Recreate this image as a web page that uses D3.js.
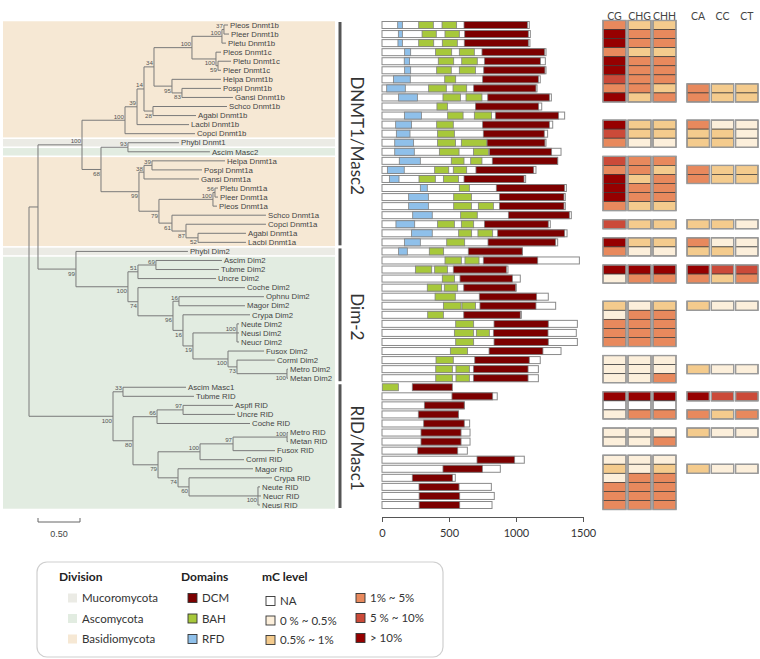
<!DOCTYPE html>
<html>
<head>
<meta charset="utf-8">
<script src="https://cdnjs.cloudflare.com/ajax/libs/d3/7.8.5/d3.min.js"></script>
<style>
  body { margin: 0; background: #fff; }
  svg { font-family: "Liberation Sans", Arial, sans-serif; }
</style>
</head>
<body>
<div id="chart"></div>
<script>
// Data =========================

// tree (newick, branch lengths in substitutions/site, support values as node names)
let dnmt1bClade = "(((((((Pleos_Dnmt1b:0.048,Pleer_Dnmt1b:0.060)37:0.024,Pletu_Dnmt1b:0.048)100:0.357,(Pleos_Dnmt1c:0.060,(Pletu_Dnmt1c:0.155,Pleer_Dnmt1c:0.036)59:0.024)100:0.286)100:0.452,(Helpa_Dnmt1b:0.583,(Pospl_Dnmt1b:0.464,Gansi_Dnmt1b:0.607)83:0.119)95:0.214)34:0.119,(Schco_Dnmt1b:0.881,Agabi_Dnmt1b:0.512)28:0.107)14:0.083,Lacbi_Dnmt1b:0.619)39:0.143,Copci_Dnmt1b:0.833)100:0.512";
let dnmt1aClade = "((Phybl_Dnmt1:0.607,Ascim_Masc2:0.976)93:0.321,(((Helpa_Dnmt1a:0.869,Pospl_Dnmt1a:0.595)39:0.095,Gansi_Dnmt1a:0.655)38:0.060,(((Pletu_Dnmt1a:0.036,Pleer_Dnmt1a:0.036)56:0.024,Pleos_Dnmt1a:0.048)100:0.643,(Schco_Dnmt1a:1.119,(Copci_Dnmt1a:0.952,(Agabi_Dnmt1a:0.571,Lacbi_Dnmt1a:0.571)52:0.143)87:0.167)61:0.155)79:0.238)99:0.452)68:0.226";
let dim2Clade = "(Phybl_Dim2:1.333,(((Ascim_Dim2:0.786,Tubme_Dim2:0.750)69:0.214,Uncre_Dim2:0.929)51:0.119,(Coche_Dim2:1.274,((Ophnu_Dim2:1.012,Magor_Dim2:0.786)16:0.071,(Crypa_Dim2:0.798,((Neute_Dim2:0.024,Neusi_Dim2:0.024,Neucr_Dim2:0.024)100:0.524,(Fusox_Dim2:0.429,(Cormi_Dim2:0.452,(Metro_Dim2:0.012,Metan_Dim2:0.012)100:0.595)73:0.107)100:0.417)19:0.119)16:0.119)96:0.417)74:0.119)100:0.619)99:0.452";
let ridClade = "((Ascim_Masc1:0.750,Tubme_RID:0.845)33:0.119,(((Aspfl_RID:0.595,Uncre_RID:0.619)97:0.310,Coche_RID:1.107)66:0.286,((((Metro_RID:0.012,Metan_RID:0.012)100:0.643,Fusox_RID:0.500)97:0.393,Cormi_RID:0.524)100:0.500,(Magor_RID:0.893,(Crypa_RID:0.988,(Neute_RID:0.024,Neucr_RID:0.036,Neusi_RID:0.024)100:0.821)60:0.131)74:0.238)79:0.298)80:0.238)100:1.000";
let treeNewick = "(((" + dnmt1bClade + "," + dnmt1aClade + ")100:0.524," + dim2Clade + "):0.107," + ridClade + ");";

let basidioSpecies = ["Pleos", "Pleer", "Pletu", "Helpa", "Pospl", "Gansi", "Schco", "Agabi", "Lacbi", "Copci"];
let mucoroSpecies = ["Phybl"];

let cladeNames = ["DNMT1/Masc2", "Dim-2", "RID/Masc1"];
let cladeFirstLeaf = [0, 25, 40];
let cladeLastLeaf = [24, 39, 53];

// protein length and domains (aa), in leaf order top to bottom
let proteinLength = [1099, 1107, 1104, 1224, 1219, 1224, 1181, 1157, 1264, 1192, 1363, 1274, 1236, 1224, 1336, 1311, 1149,
  1072, 1376, 1368, 1368, 1413, 1256, 1381, 1311, 1047, 1473, 940, 1032, 1002, 1241, 1296, 1040, 1458, 1450, 1458, 1336,
  1181, 1167, 1167, null, 860, 614, 570, 654, 657, 657, 637, 1062, 883, 547, 816, 838, 821];
let rfdDomain = [[117, 152], [122, 152], [119, 152], [169, 214], [166, 206], [169, 214], [85, 211], [35, 174], [124, 264], null,
  [167, 294], [102, 221], [107, 209], [95, 236], [95, 241], [129, 286], [40, 166], [55, 127], [286, 338], [199, 346], [199, 346],
  [229, 375], [104, 244], [221, 375], [167, 286], [124, 189],
  null, null, null, null, null, null, null, null, null, null, null, null, null, null,
  null, null, null, null, null, null, null, null, null, null, null, null, null, null];
let bahDomains = [[[274, 383], [448, 557]], [[299, 405], [470, 577]], [[274, 386], [450, 562]], [[400, 520], [577, 689]],
  [[420, 535], [595, 711]], [[408, 517], [577, 697]], [[468, 550]], [[348, 480], [530, 632]], [[455, 585], [627, 746]],
  [[410, 488]], [[490, 605], [689, 818]], [[408, 532]], [[415, 540]], [[415, 549], [592, 784]], [[428, 575], [682, 794]],
  [[517, 612], [662, 746]], [[393, 498], [532, 632]], [[276, 398], [458, 570]], [[577, 652]], [[535, 667]],
  [[535, 667], [719, 831]], [[587, 711]], [[415, 540], [592, 684]], [[572, 669], [716, 826]], [[483, 617]], [[353, 460]],
  [[470, 592], [619, 724]], [[249, 371], [393, 488]], [[450, 542]], [[338, 445], [465, 565]], [[396, 547]],
  [[458, 590], [597, 697]], [[341, 458]], [[550, 684]], [[540, 684], [704, 801]], [[550, 684]], [[510, 639]], [[403, 532]],
  [[401, 525], [552, 652]], [[401, 525], [552, 652]], [[2, 122]],
  [], [], [], [], [], [], [], [], [], [], [], [], []];
let dcmDomain = [[612, 1085], [617, 1092], [614, 1092], [746, 1214], [764, 1182], [759, 1216], [751, 1167], [684, 1149],
  [789, 1249], [697, 1169], [846, 1318], [751, 1249], [756, 1211], [784, 1216], [801, 1266], [823, 1311], [701, 1132],
  [612, 1060], [853, 1363], [876, 1358], [876, 1358], [943, 1398], [764, 1241], [863, 1363], [791, 1296], [644, 1047],
  [756, 1162], [532, 928], [582, 973], [610, 998], [726, 1154], [731, 1149], [610, 1032], [836, 1241], [831, 1239],
  [836, 1241], [799, 1201], [692, 1099], [682, 1090], [682, 1090], [226, 525], [522, 826], [316, 614], [271, 570],
  [311, 614], [291, 590], [291, 590], [266, 565], [709, 990], [455, 749], [226, 527], [276, 575], [277, 580], [277, 580]];
let lengthTicks = [0, 500, 1000, 1500];

// methylation level classes: 0 NA, 1 0-0.5%, 2 0.5-1%, 3 1-5%, 4 5-10%, 5 >10%
let contextCols = ["CG", "CHG", "CHH"];
let contextLeaves = ["Pleos Dnmt1b", "Pleer Dnmt1b", "Pletu Dnmt1b", "Pleos Dnmt1c", "Pletu Dnmt1c", "Pleer Dnmt1c",
  "Helpa Dnmt1b", "Pospl Dnmt1b", "Gansi Dnmt1b", "Lacbi Dnmt1b", "Copci Dnmt1b", "Phybl Dnmt1", "Helpa Dnmt1a",
  "Pospl Dnmt1a", "Gansi Dnmt1a", "Pletu Dnmt1a", "Pleer Dnmt1a", "Pleos Dnmt1a", "Copci Dnmt1a", "Lacbi Dnmt1a",
  "Phybl Dim2", "Tubme Dim2", "Uncre Dim2", "Magor Dim2", "Crypa Dim2", "Neute Dim2", "Neusi Dim2", "Neucr Dim2",
  "Cormi Dim2", "Metro Dim2", "Metan Dim2", "Tubme RID", "Aspfl RID", "Uncre RID", "Metro RID", "Metan RID",
  "Cormi RID", "Magor RID", "Crypa RID", "Neute RID", "Neucr RID", "Neusi RID"];
let mCG  = [3, 5, 5, 3, 5, 5, 4, 3, 5, 5, 4, 3, 4, 3, 5, 5, 5, 3, 4, 5, 3, 5, 1, 2, 1, 3, 3, 3, 1, 1, 1, 5, 0, 1, 1, 1, 1, 2, 1, 3, 3, 3];
let mCHG = [2, 3, 3, 2, 3, 3, 3, 3, 2, 2, 2, 1, 3, 3, 2, 3, 3, 2, 2, 2, 1, 5, 3, 1, 3, 3, 3, 3, 1, 1, 1, 5, 0, 3, 1, 1, 1, 1, 3, 3, 3, 3];
let mCHH = [2, 3, 3, 2, 3, 3, 3, 2, 3, 2, 2, 1, 3, 2, 3, 3, 3, 2, 2, 2, 1, 5, 3, 2, 3, 3, 3, 3, 1, 1, 3, 5, 0, 3, 1, 3, 1, 2, 3, 3, 3, 3];

let dinucCols = ["CA", "CC", "CT"];
let dinucLeaves = ["Pospl Dnmt1b", "Gansi Dnmt1b", "Lacbi Dnmt1b", "Copci Dnmt1b", "Phybl Dnmt1", "Pospl Dnmt1a",
  "Gansi Dnmt1a", "Copci Dnmt1a", "Lacbi Dnmt1a", "Phybl Dim2", "Tubme Dim2", "Uncre Dim2", "Magor Dim2", "Metro Dim2",
  "Tubme RID", "Uncre RID", "Metro RID", "Magor RID"];
let mCA = [3, 3, 3, 2, 2, 3, 3, 2, 3, 2, 5, 3, 2, 2, 5, 3, 2, 2];
let mCC = [2, 2, 1, 2, 2, 2, 2, 2, 1, 2, 4, 2, 1, 1, 4, 2, 1, 1];
let mCT = [2, 2, 1, 1, 1, 2, 2, 1, 1, 1, 4, 3, 1, 1, 4, 3, 1, 1];

let mcLevelLabels = ["NA", "0 % ~ 0.5%", "0.5% ~ 1%", "1% ~ 5%", "5 % ~ 10%", "> 10%"];
let mcLevelColors = ["#ffffff", "#fcefdb", "#f4cb8d", "#e8895d", "#cb4a39", "#960000"];

let divisionNames = ["Mucoromycota", "Ascomycota", "Basidiomycota"];
let divisionColors = ["#ebebe5", "#e2ece1", "#f6e8d4"];
let domainNames = ["DCM", "BAH", "RFD"];
let domainColors = ["#7c0000", "#a7c83b", "#8fc0ea"];

// Setup ========================

let svgWidth = 760;
let svgHeight = 659;
let svg = d3.select("#chart").append("svg").attr("width", svgWidth).attr("height", svgHeight);

let parseNewick = s => {
  let ancestors = [];
  let tree = {};
  let tokens = s.split(/\s*(;|\(|\)|,|:)\s*/);
  tokens.forEach((t, i) => {
    if (t === "(") {
      let sub = {};
      tree.children = [sub];
      ancestors.push(tree);
      tree = sub;
    } else if (t === ",") {
      let sib = {};
      ancestors[ancestors.length - 1].children.push(sib);
      tree = sib;
    } else if (t === ")") {
      tree = ancestors.pop();
    } else if (t !== ":" && t !== ";" && t !== "") {
      let prev = tokens[i - 1];
      if (prev === ":") tree.length = parseFloat(t);
      else tree.name = t;
    }
  });
  return tree;
};

let root = d3.hierarchy(parseNewick(treeNewick));
root.eachBefore(d => d.dist = d.parent ? d.parent.dist + (d.data.length || 0) : 0);
let leaves = root.leaves();

let yScale = d3.scaleLinear().domain([0, leaves.length - 1]).range([25, 505]);
let rowH = yScale(1) - yScale(0);
let xTree = d3.scaleLinear().domain([0, 1]).range([29, 113]);
let xBar = d3.scaleLinear().domain([0, 1500]).range([382, 583]);

leaves.forEach((d, i) => {
  d.idx = i;
  d.yPos = yScale(i);
  d.label = d.data.name.replace(/_/g, " ");
});
root.eachAfter(d => {
  if (d.children) d.yPos = (d.children[0].yPos + d.children[d.children.length - 1].yPos) / 2;
});
let leafIndex = {};
leaves.forEach(d => leafIndex[d.label] = d.idx);

// Division bands ===============

let divisionOf = name => {
  let sp = name.slice(0, 5);
  if (basidioSpecies.includes(sp)) return 2;
  if (mucoroSpecies.includes(sp)) return 0;
  return 1;
};
let runs = [];
leaves.forEach((d, i) => {
  let dv = divisionOf(d.label);
  if (runs.length && runs[runs.length - 1].dv === dv) runs[runs.length - 1].end = i;
  else runs.push({ dv: dv, start: i, end: i });
});
svg.append("g").selectAll("rect")
  .data(runs)
  .enter()
  .append("rect")
  .attr("x", 3)
  .attr("width", 332)
  .attr("y", d => yScale(d.start) - rowH / 2 + 0.8)
  .attr("height", d => yScale(d.end) - yScale(d.start) + rowH - 1.6)
  .attr("fill", d => divisionColors[d.dv]);

// Tree =========================

let treeG = svg.append("g").attr("stroke", "#7a7a7a").attr("stroke-width", 1).attr("fill", "none");
root.descendants().filter(d => d.parent).forEach(d => {
  treeG.append("line")
    .attr("x1", xTree(d.parent.dist)).attr("x2", xTree(d.dist))
    .attr("y1", d.yPos).attr("y2", d.yPos);
});
root.descendants().filter(d => d.children).forEach(d => {
  treeG.append("line")
    .attr("x1", xTree(d.dist)).attr("x2", xTree(d.dist))
    .attr("y1", d.children[0].yPos).attr("y2", d.children[d.children.length - 1].yPos);
});

// support values
root.descendants().filter(d => d.children && d.parent && d.data.name).forEach(d => {
  let first = d.parent.children[0] === d;
  svg.append("text")
    .attr("x", xTree(d.dist) - 1)
    .attr("y", d.yPos + (first ? -1.5 : 6.5))
    .attr("text-anchor", "end")
    .attr("font-size", 6.2)
    .attr("fill", "#555")
    .text(d.data.name);
});

// leaf labels
svg.append("g").selectAll("text")
  .data(leaves)
  .enter()
  .append("text")
  .attr("x", d => xTree(d.dist) + 2)
  .attr("y", d => d.yPos)
  .attr("dy", "0.35em")
  .attr("font-size", 7.8)
  .attr("fill", "#444")
  .text(d => d.label);

// scale bar
let sbX = 38;
let sbLen = xTree(0.5) - xTree(0);
svg.append("path")
  .attr("d", `M${sbX},518V522H${sbX + sbLen}V518`)
  .attr("fill", "none")
  .attr("stroke", "#666")
  .attr("stroke-width", 1);
svg.append("text")
  .attr("x", sbX + sbLen / 2)
  .attr("y", 537)
  .attr("text-anchor", "middle")
  .attr("font-size", 9)
  .attr("fill", "#444")
  .text("0.50");

// Clade brackets ===============

cladeNames.forEach((name, i) => {
  let y1 = yScale(cladeFirstLeaf[i]) - 3;
  let y2 = yScale(cladeLastLeaf[i]) + 3;
  svg.append("line")
    .attr("x1", 340).attr("x2", 340)
    .attr("y1", y1).attr("y2", y2)
    .attr("stroke", "#555")
    .attr("stroke-width", 3);
  svg.append("text")
    .attr("transform", `translate(357, ${(y1 + y2) / 2 + 2}) rotate(90)`)
    .attr("text-anchor", "middle")
    .attr("dominant-baseline", "central")
    .attr("font-family", "Lato, 'Open Sans', sans-serif")
    .attr("font-size", 17)
    .attr("fill", "#333")
    .text(name);
});

// Domain bars ==================

let barH = 7;
let barsG = svg.append("g");
leaves.forEach((d, i) => {
  let y = d.yPos - barH / 2;
  if (proteinLength[i] !== null) {
    barsG.append("rect")
      .attr("x", xBar(0)).attr("y", y)
      .attr("width", xBar(proteinLength[i]) - xBar(0)).attr("height", barH)
      .attr("fill", "#fff").attr("stroke", "#8a8a8a").attr("stroke-width", 1);
  }
  let segs = [];
  if (rfdDomain[i]) segs.push({ r: rfdDomain[i], c: domainColors[2] });
  bahDomains[i].forEach(r => segs.push({ r: r, c: domainColors[1] }));
  if (dcmDomain[i]) segs.push({ r: dcmDomain[i], c: domainColors[0] });
  segs.forEach(s => {
    barsG.append("rect")
      .attr("x", xBar(s.r[0])).attr("y", y)
      .attr("width", xBar(s.r[1]) - xBar(s.r[0])).attr("height", barH)
      .attr("fill", s.c).attr("stroke", "#808080").attr("stroke-width", 0.8);
  });
});

let xAxis = svg.append("g")
  .attr("transform", "translate(0, 517)")
  .call(d3.axisBottom(xBar).tickValues(lengthTicks).tickFormat(d3.format("d")).tickSize(5).tickPadding(7));
xAxis.select(".domain").attr("stroke", "#555");
xAxis.selectAll(".tick line").attr("stroke", "#555");
xAxis.selectAll("text")
  .attr("font-family", "Lato, 'Open Sans', sans-serif")
  .attr("font-size", 11)
  .attr("fill", "#333");

// Methylation heatmap ==========

let drawHeat = (cols, range, rowLeaves, values) => {
  let xCol = d3.scaleBand().domain(cols).range(range).paddingInner(0.08);
  let g = svg.append("g");
  cols.forEach((c, ci) => {
    g.append("text")
      .attr("x", xCol(c) + xCol.bandwidth() / 2)
      .attr("y", 16)
      .attr("dy", "0.35em")
      .attr("text-anchor", "middle")
      .attr("font-family", "Lato, 'Open Sans', sans-serif")
      .attr("font-size", 10.5)
      .attr("fill", "#444")
      .text(c);
    rowLeaves.forEach((name, ri) => {
      let idx = leafIndex[name];
      g.append("rect")
        .attr("x", xCol(c))
        .attr("y", yScale(idx) - rowH / 2)
        .attr("width", xCol.bandwidth())
        .attr("height", rowH)
        .attr("fill", mcLevelColors[values[ci][ri]])
        .attr("stroke", "#3a3a3a")
        .attr("stroke-width", 0.7);
    });
    // outline of consecutive blocks
    let idxs = rowLeaves.map(n => leafIndex[n]);
    let blocks = [];
    idxs.forEach(k => {
      if (blocks.length && blocks[blocks.length - 1].end === k - 1) blocks[blocks.length - 1].end = k;
      else blocks.push({ start: k, end: k });
    });
    blocks.forEach(b => {
      g.append("rect")
        .attr("x", xCol(c))
        .attr("y", yScale(b.start) - rowH / 2)
        .attr("width", xCol.bandwidth())
        .attr("height", yScale(b.end) - yScale(b.start) + rowH)
        .attr("fill", "none")
        .attr("stroke", "#9a9a9a")
        .attr("stroke-width", 1.4);
    });
  });
};
drawHeat(contextCols, [603, 676], contextLeaves, [mCG, mCHG, mCHH]);
drawHeat(dinucCols, [687, 758], dinucLeaves, [mCA, mCC, mCT]);

// Legend =======================

let lg = svg.append("g").attr("font-family", "Lato, 'Open Sans', sans-serif").attr("fill", "#222");
lg.append("rect")
  .attr("x", 37).attr("y", 562).attr("width", 406).attr("height", 95).attr("rx", 10)
  .attr("fill", "#fff").attr("stroke", "#cfcfcf").attr("stroke-width", 1.2);

let headers = [["Division", 59], ["Domains", 181], ["mC level", 262]];
headers.forEach(h => {
  lg.append("text").attr("x", h[1]).attr("y", 581)
    .attr("font-size", 12).attr("font-weight", "bold").text(h[0]);
});

let addItem = (x, y, color, label, border) => {
  lg.append("rect")
    .attr("x", x).attr("y", y - 4.5).attr("width", 9).attr("height", 9)
    .attr("fill", color)
    .attr("stroke", border ? "#333" : "none").attr("stroke-width", 0.9);
  lg.append("text").attr("x", x + 14).attr("y", y).attr("dy", "0.35em")
    .attr("font-size", 11.5).attr("fill", "#333").text(label);
};
divisionNames.forEach((n, i) => addItem(68, 598 + i * 20.5, divisionColors[i], n, false));
domainNames.forEach((n, i) => addItem(188, 598 + i * 20.5, domainColors[i], n, true));
mcLevelLabels.forEach((n, i) => {
  if (i < 3) addItem(266, 601 + i * 19.5, mcLevelColors[i], n, true);
  else addItem(356, 598 + (i - 3) * 20, mcLevelColors[i], n, true);
});
</script>
</body>
</html>
